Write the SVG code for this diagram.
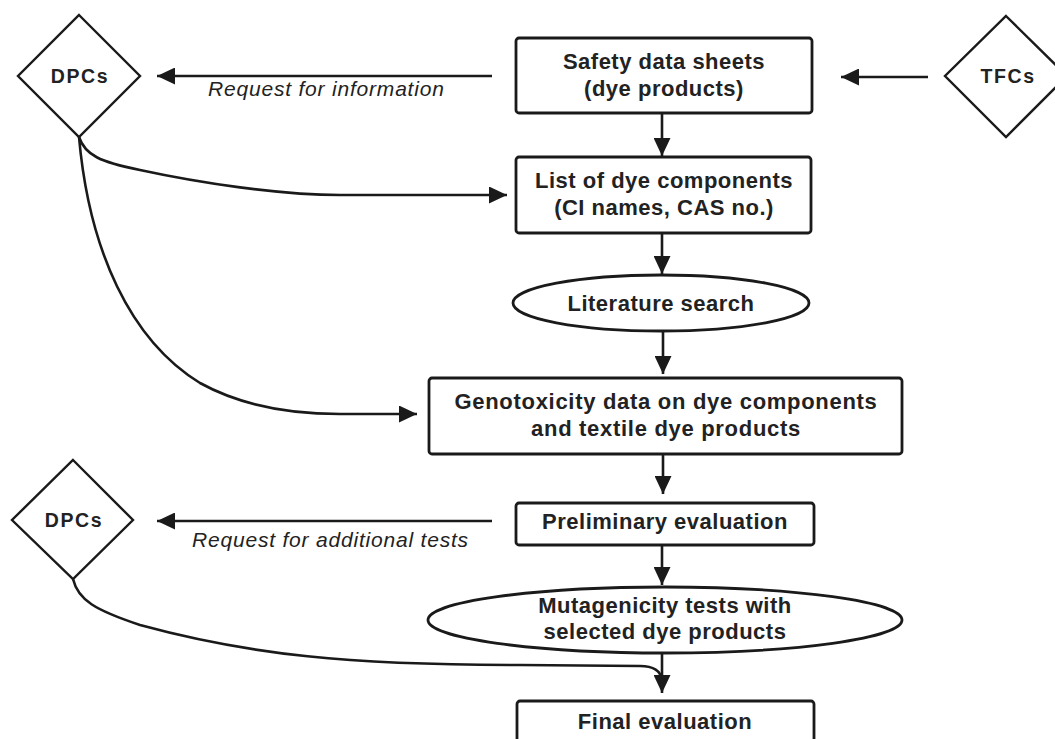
<svg xmlns="http://www.w3.org/2000/svg" width="1055" height="739" viewBox="0 0 1055 739">
<style>
.box{fill:#fff;stroke:#1a1a1a;stroke-width:2.8}
.dia{fill:#fff;stroke:#1a1a1a;stroke-width:2.4}
.t{font-family:"Liberation Sans",Arial,sans-serif;font-weight:bold;font-size:22px;fill:#222;text-anchor:middle;letter-spacing:0.5px}
.d{font-family:"Liberation Sans",Arial,sans-serif;font-weight:bold;font-size:19.5px;fill:#222;text-anchor:middle;letter-spacing:1.6px}
.lab{font-family:"Liberation Sans",Arial,sans-serif;font-style:italic;font-size:21px;fill:#222;letter-spacing:0.8px}
.c{fill:none;stroke:#1a1a1a;stroke-width:2.6}
</style>
<defs>
<marker id="ah" markerUnits="userSpaceOnUse" markerWidth="18" markerHeight="17" refX="18" refY="8.5" orient="auto">
<path d="M0,0 L18,8.5 L0,17 z" fill="#1a1a1a"/>
</marker>
</defs>
<rect width="1055" height="739" fill="#fff"/>
<g id="connectors">
<path class="c" d="M492,76 L157,76" marker-end="url(#ah)"/>
<path class="c" d="M928,77 L841,77" marker-end="url(#ah)"/>
<path class="c" d="M662,113 L662,156" marker-end="url(#ah)"/>
<path class="c" d="M79,137 C85,155 100,162 140,170 C200,183 280,195 340,195 L507,195" marker-end="url(#ah)"/>
<path class="c" d="M662,233 L662,274" marker-end="url(#ah)"/>
<path class="c" d="M663,331 L663,374" marker-end="url(#ah)"/>
<path class="c" d="M79,137 C89,250 130,340 200,383 C240,405 290,414 340,414 L417,414" marker-end="url(#ah)"/>
<path class="c" d="M663,454 L663,494" marker-end="url(#ah)"/>
<path class="c" d="M492,521 L157,521" marker-end="url(#ah)"/>
<path class="c" d="M662,545 L662,585" marker-end="url(#ah)"/>
<path class="c" d="M662,653 L662,693" marker-end="url(#ah)"/>
<path class="c" d="M73,579 C78,600 95,610 140,625 C250,655 350,665 520,665 L640,666 Q660,666 662,680"/>
</g>
<g id="dpcs1">
<polygon class="dia" points="79,15 140,76 79,137 18,76"/>
<text class="d" x="80" y="83">DPCs</text>
</g>
<g id="tfcs">
<polygon class="dia" points="1006,16 1067,76 1006,137 945,76"/>
<text class="d" x="1008" y="83">TFCs</text>
</g>
<g id="safety">
<rect class="box" x="516" y="38" width="296" height="75" rx="3"/>
<text class="t" x="664" y="69">Safety data sheets</text>
<text class="t" x="664" y="96">(dye products)</text>
</g>
<g id="list">
<rect class="box" x="516" y="157" width="295" height="76" rx="3"/>
<text class="t" x="664" y="188">List of dye components</text>
<text class="t" x="664" y="215">(CI names, CAS no.)</text>
</g>
<g id="literature">
<ellipse class="box" cx="661" cy="303" rx="148" ry="28"/>
<text class="t" x="661" y="311">Literature search</text>
</g>
<g id="genotox">
<rect class="box" x="429" y="378" width="473" height="76" rx="3"/>
<text class="t" x="666" y="409" style="letter-spacing:0.7px">Genotoxicity data on dye components</text>
<text class="t" x="666" y="436" style="letter-spacing:0.7px">and textile dye products</text>
</g>
<g id="preliminary">
<rect class="box" x="516" y="503" width="298" height="42" rx="3"/>
<text class="t" x="665" y="529">Preliminary evaluation</text>
</g>
<g id="dpcs2">
<polygon class="dia" points="73,460 133,520 73,579 12,520"/>
<text class="d" x="74" y="527">DPCs</text>
</g>
<g id="mutagenicity">
<ellipse class="box" cx="665" cy="620" rx="237" ry="33"/>
<text class="t" x="665" y="613">Mutagenicity tests with</text>
<text class="t" x="665" y="639">selected dye products</text>
</g>
<g id="final">
<rect class="box" x="517" y="701" width="297" height="60" rx="3"/>
<text class="t" x="665" y="729">Final evaluation</text>
</g>
<g id="labels">
<text class="lab" x="208" y="96">Request for information</text>
<text class="lab" x="192" y="547">Request for additional tests</text>
</g>
</svg>
